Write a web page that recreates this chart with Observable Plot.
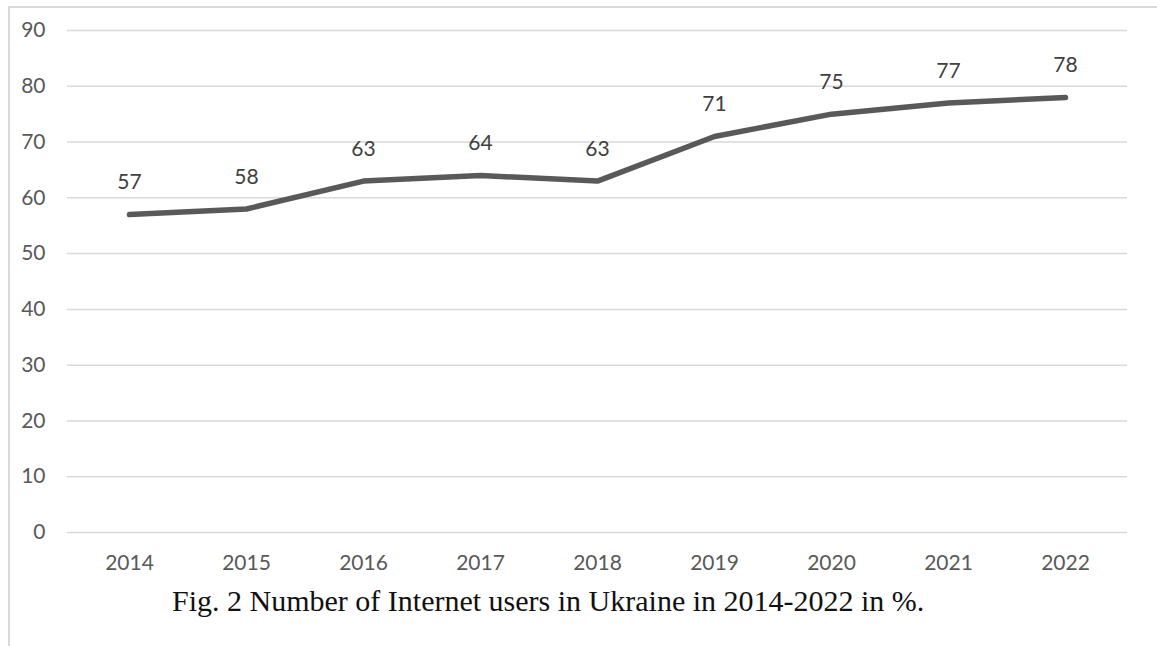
<!DOCTYPE html>
<html>
<head>
<meta charset="utf-8">
<script src="https://cdn.jsdelivr.net/npm/d3@7"></script>
<script src="https://cdn.jsdelivr.net/npm/@observablehq/plot@0.6"></script>
<style>
  html, body { margin: 0; padding: 0; background: #fff; }
  #wrap { position: relative; width: 1157px; height: 646px; overflow: hidden; background: #fff; }
  #frame { position: absolute; left: 8px; top: 6px; width: 1200px; height: 700px; border-left: 2px solid #d9d9d9; border-top: 2px solid #d9d9d9; }
  #chart { position: absolute; left: 0; top: 0; }
  #caption { position: absolute; left: 172px; top: 584px; font-family: "Liberation Serif", "Times New Roman", serif; font-size: 30px; color: #111; white-space: nowrap; }
</style>
</head>
<body>
<div id="wrap">
  <div id="frame"></div>
  <div id="chart"></div>
  <div id="caption">Fig. 2 Number of Internet users in Ukraine in 2014-2022 in %.</div>
</div>
<script>
const years = ["2014", "2015", "2016", "2017", "2018", "2019", "2020", "2021", "2022"];
const users = [57, 58, 63, 64, 63, 71, 75, 77, 78];
const yTicks = [0, 10, 20, 30, 40, 50, 60, 70, 80, 90];

const data = years.map((y, i) => ({year: y, value: users[i]}));

const chart = Plot.plot({
  width: 1157,
  height: 580,
  marginLeft: 67,
  marginRight: 30,
  marginTop: 30,
  marginBottom: 48,
  style: {fontFamily: "Lato, 'Open Sans', sans-serif", fontSize: "21px", color: "#595959", background: "transparent"},
  x: {type: "point", domain: years, padding: 0.5, label: null, tickSize: 0, tickPadding: 23},
  y: {domain: [0, 90], ticks: yTicks, label: null, tickSize: 0, tickPadding: 22},
  marks: [
    Plot.gridY(yTicks, {stroke: "#d9d9d9", strokeOpacity: 1, strokeWidth: 1.5}),
    Plot.line(data, {x: "year", y: "value", stroke: "#595959", strokeWidth: 5.5, strokeLinecap: "round", strokeLinejoin: "round"}),
    Plot.text(data, {x: "year", y: "value", text: d => String(d.value), dy: -32, fill: "#404040", fontSize: 21})
  ]
});
document.getElementById("chart").appendChild(chart);
</script>
</body>
</html>
